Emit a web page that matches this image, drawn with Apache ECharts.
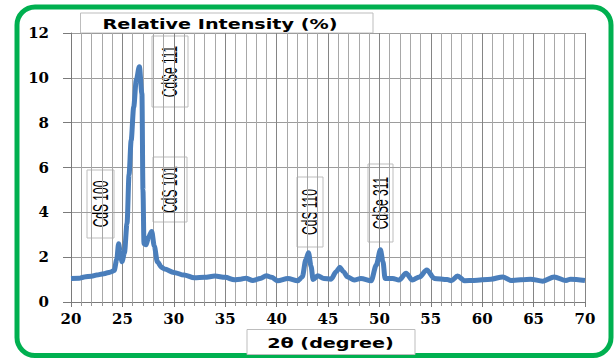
<!DOCTYPE html>
<html>
<head>
<meta charset="utf-8">
<script src="https://cdn.jsdelivr.net/npm/echarts@6/dist/echarts.min.js"></script>
<style>
  html, body { margin: 0; padding: 0; background: #ffffff; }
  #chart { width: 616px; height: 358px; }
</style>
</head>
<body>
<div id="chart"></div>
<script>
// XRD pattern of the CdS/CdSe film: diffraction angle 2θ (degrees) vs relative intensity (%)
const twoTheta = [
  20.0, 20.8, 21.3, 22.0, 22.5, 23.2, 23.8, 24.2, 24.45, 24.63, 24.8, 24.96,
  25.2, 25.45, 25.65, 25.85, 26.1, 26.35, 26.65, 26.9, 27.0, 27.1, 27.3, 27.55,
  27.85, 28.1, 28.4, 28.8, 29.1, 30.0, 31.0, 32.0, 33.0, 34.0, 35.0, 35.9,
  36.5, 37.0, 37.7, 38.4, 39.0, 39.5, 40.1, 41.1, 42.05, 42.5, 42.85, 43.1,
  43.35, 43.55, 44.0, 44.6, 45.3, 45.8, 46.15, 46.5, 46.9, 47.55, 48.2, 49.2,
  49.7, 50.1, 50.35, 50.55, 51.3, 51.9, 52.6, 53.2, 53.9, 54.6, 55.35, 56.6,
  57.0, 57.6, 58.3, 59.2, 60.85, 62.0, 62.8, 64.7, 65.9, 67.0, 68.15, 68.6, 70.0
];
const intensity = [
  1.05, 1.06, 1.12, 1.15, 1.2, 1.26, 1.33, 1.4, 1.9, 2.6, 2.2, 1.8,
  2.2, 3.5, 5.7, 7.2, 8.7, 9.9, 10.5, 9.3, 5.0, 2.6, 2.55, 2.9,
  3.15, 2.5, 1.8, 1.55, 1.47, 1.32, 1.2, 1.08, 1.1, 1.16, 1.1, 0.99,
  1.02, 1.06, 0.96, 1.05, 1.17, 1.1, 0.95, 1.05, 0.95, 1.12, 1.9, 2.2,
  1.6, 1.0, 1.17, 1.05, 1.02, 1.35, 1.55, 1.35, 1.12, 0.98, 1.05, 0.95,
  1.65, 2.33, 1.8, 1.05, 1.05, 0.98, 1.28, 0.98, 1.12, 1.43, 1.05, 1.0,
  0.95, 1.16, 0.95, 0.96, 1.02, 1.12, 0.96, 1.02, 0.93, 1.12, 0.96, 1.02, 0.96
];
const xTicks = [20, 25, 30, 35, 40, 45, 50, 55, 60, 65, 70];
const yTicks = [0, 2, 4, 6, 8, 10, 12];
const peakLabels = ['CdS 100', 'CdSe 111', 'CdS 101', 'CdS 110', 'CdSe 311'];

// callout boxes for the reflections: centre, length along the text, thickness
const calloutBoxes = [
  { cx: 100.5, cy: 204, len: 68, thick: 27 },
  { cx: 170,   cy: 71.5, len: 71, thick: 36 },
  { cx: 170,   cy: 189.5, len: 65, thick: 34 },
  { cx: 310,   cy: 212, len: 70, thick: 26 },
  { cx: 380.5, cy: 203, len: 78, thick: 25 }
];

const chart = echarts.init(document.getElementById('chart'), null, { renderer: 'svg' });

const seriesData = twoTheta.map((t, i) => [t, intensity[i]]);

const axisFont = {
  fontFamily: 'DejaVu Serif',
  fontWeight: 'bold',
  fontSize: 15,
  color: '#000000'
};

const callouts = peakLabels.map((label, i) => {
  const b = calloutBoxes[i];
  return {
    type: 'group',
    x: b.cx,
    y: b.cy,
    rotation: Math.PI / 2,
    children: [
      {
        type: 'rect',
        shape: { x: -b.len / 2, y: -b.thick / 2, width: b.len, height: b.thick },
        style: { fill: '#ffffff', stroke: '#bdbdbd', lineWidth: 1 }
      },
      {
        type: 'text',
        scaleX: 0.8,
        scaleY: 1.45,
        style: {
          text: label,
          x: 0,
          y: 0,
          fill: '#000000',
          font: '15px "Liberation Sans", Arial, sans-serif',
          align: 'center',
          verticalAlign: 'middle'
        }
      }
    ]
  };
});

const option = {
  animation: false,
  backgroundColor: '#ffffff',
  grid: { left: 71, right: 31, top: 33, bottom: 56 },
  xAxis: {
    type: 'value',
    min: xTicks[0],
    max: xTicks[xTicks.length - 1],
    interval: 5,
    axisLine: { show: true, lineStyle: { color: '#7a7a7a', width: 1 } },
    axisTick: { show: true, length: 5, lineStyle: { color: '#7a7a7a' } },
    minorTick: { show: true, splitNumber: 5, length: 4, lineStyle: { color: '#969696' } },
    splitLine: { show: true, lineStyle: { color: '#858585', width: 1 } },
    minorSplitLine: { show: true, lineStyle: { color: '#a8a8a8', width: 1 } },
    axisLabel: Object.assign({ margin: 9 }, axisFont)
  },
  yAxis: {
    type: 'value',
    min: yTicks[0],
    max: yTicks[yTicks.length - 1],
    interval: 2,
    axisLine: { show: true, lineStyle: { color: '#7a7a7a', width: 1 } },
    axisTick: { show: true, length: 8, lineStyle: { color: '#7a7a7a' } },
    splitLine: { show: true, lineStyle: { color: '#9c9c9c', width: 1 } },
    axisLabel: Object.assign({ margin: 22 }, axisFont)
  },
  series: [
    {
      type: 'line',
      data: seriesData,
      showSymbol: false,
      smooth: 0.3,
      smoothMonotone: 'x',
      lineStyle: { color: '#4A7EBB', width: 5 }
    }
  ],
  graphic: [
    // green rounded frame
    {
      type: 'rect',
      shape: { x: 17, y: 7, width: 594, height: 348.5, r: 18 },
      style: { fill: 'transparent', stroke: '#00B050', lineWidth: 5 }
    },
    // y-axis title box
    {
      type: 'rect',
      shape: { x: 80.5, y: 13, width: 292.5, height: 20 },
      style: { fill: '#ffffff', stroke: '#bdbdbd', lineWidth: 1 }
    },
    {
      type: 'text',
      x: 220,
      y: 23.5,
      scaleX: 1.37,
      style: {
        text: 'Relative Intensity (%)',
        x: 0, y: 0,
        fill: '#000000',
        font: 'bold 14px "DejaVu Sans", Verdana, sans-serif',
        align: 'center', verticalAlign: 'middle'
      }
    },
    // x-axis title box
    {
      type: 'rect',
      shape: { x: 247, y: 329.5, width: 168, height: 25 },
      style: { fill: '#ffffff', stroke: '#bdbdbd', lineWidth: 1 }
    },
    {
      type: 'text',
      x: 330.5,
      y: 342.5,
      scaleX: 1.37,
      style: {
        text: '2θ (degree)',
        x: 0, y: 0,
        fill: '#000000',
        font: 'bold 14px "DejaVu Sans", Verdana, sans-serif',
        align: 'center', verticalAlign: 'middle'
      }
    }
  ].concat(callouts)
};

chart.setOption(option);
</script>
</body>
</html>
